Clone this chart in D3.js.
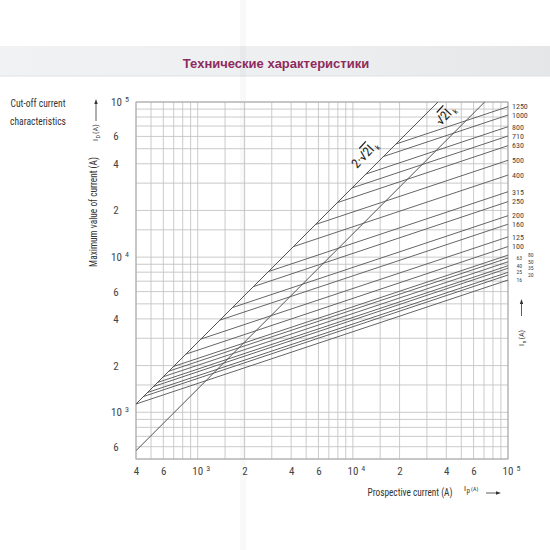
<!DOCTYPE html>
<html>
<head>
<meta charset="utf-8">
<script src="https://cdn.jsdelivr.net/npm/d3@7"></script>
<style>
  html, body { margin: 0; padding: 0; background: #ffffff; }
  svg { display: block; }
  .nar { font-family: "Liberation Sans Narrow", "Roboto Condensed", "DejaVu Sans Condensed", "Liberation Sans", sans-serif; }
</style>
</head>
<body>
<svg id="chart" width="550" height="550"></svg>
<script>
// ---------- data ----------
const titleText = "Технические характеристики";
const ratings  = [1250, 1000, 800, 710, 630, 500, 400, 315, 250, 200, 160, 125, 100, 80, 63, 50, 40, 35, 25, 20, 16];
// start of each cut-off line (on the 2·√2·Ik line): prospective current, cut-off current
const startIp  = [18950, 15730, 12140, 9870, 7940, 5740, 4130, 2855, 2282, 1672, 1388, 1049, 838, 698, 651, 599, 550, 518, 474, 447, 400];
const startIc  = [53600, 44490, 34340, 27920, 22460, 16240, 11680, 8075, 6455, 4730, 3926, 2967, 2370, 1974, 1841, 1694, 1556, 1465, 1341, 1264, 1131];
// end of each line at Ip = 100 kA
const endIp    = [100000, 100000, 100000, 100000, 100000, 100000, 100000, 100000, 100000, 100000, 100000, 100000, 100000, 100000, 100000, 100000, 100000, 100000, 100000, 100000, 100000];
const endIc    = [93300, 82400, 69300, 60400, 52300, 42100, 33800, 26400, 22800, 18500, 16300, 13500, 11700, 10300, 9870, 9330, 8800, 8480, 7980, 7670, 7120];
// label column for each rating (0 = main, 1 = small left, 2 = small right)
const labelCol = [0,0,0,0,0,0,0,0,0,0,0,0,0,2,1,2,1,2,1,2,1];
// diagonal reference lines
const diag2Ip = [400, 35355];   // 2·√2·Ik
const diag2Ic = [1131, 100000];
const diag1Ip = [400, 70711];   // √2·Ik
const diag1Ic = [566, 100000];
// ticks
const xTickVals   = [400, 600, 1000, 2000, 4000, 6000, 10000, 20000, 40000, 60000, 100000];
const xTickLabels = ["4", "6", "10^3", "2", "4", "6", "10^4", "2", "4", "6", "10^5"];
const yTickVals   = [600, 1000, 2000, 4000, 6000, 10000, 20000, 40000, 60000, 100000];
const yTickLabels = ["6", "10^3", "2", "4", "6", "10^4", "2", "4", "6", "10^5"];
const gridMult    = [1, 1.5, 2, 3, 4, 5, 6, 7, 8, 9];

// ---------- layout ----------
const svg = d3.select("#chart");
const L = 136, R = 508, T = 102, B = 459;
const x = d3.scaleLog().domain([400, 100000]).range([L, R]);
const y = d3.scaleLog().domain([500, 100000]).range([B, T]);

// title band
const defs = svg.append("defs");
const g1 = defs.append("linearGradient").attr("id", "band").attr("x1", 0).attr("x2", 1).attr("y1", 0).attr("y2", 0);
g1.append("stop").attr("offset", "0%").attr("stop-color", "#f1f2f3");
g1.append("stop").attr("offset", "60%").attr("stop-color", "#eceef0");
g1.append("stop").attr("offset", "100%").attr("stop-color", "#e4e6e8");
svg.append("rect").attr("x", 0).attr("y", 46).attr("width", 550).attr("height", 30).attr("fill", "url(#band)");
svg.append("line").attr("x1", 0).attr("x2", 550).attr("y1", 76).attr("y2", 76).attr("stroke", "#dfe1e3").attr("stroke-width", 1);
svg.append("text").attr("x", 276).attr("y", 67.5).attr("text-anchor", "middle")
  .attr("font-family", "Liberation Sans, Arial, sans-serif").attr("font-weight", "bold")
  .attr("font-size", 13).attr("fill", "#8e2b5d").text(titleText);

// page fold
svg.append("rect").attr("x", 240).attr("y", 0).attr("width", 6).attr("height", 550).attr("fill", "#000").attr("opacity", 0.025);

// clip
defs.append("clipPath").attr("id", "plotClip").append("rect")
  .attr("x", L).attr("y", T).attr("width", R - L).attr("height", B - T);

// grid values
function gridVals(lo, hi) {
  const v = [];
  for (let e = 2; e <= 5; e++) gridMult.forEach(m => { const val = m * Math.pow(10, e); if (val >= lo - 1e-6 && val <= hi + 1e-6) v.push(val); });
  return v;
}
const gGrid = svg.append("g");
gGrid.selectAll("line.vx").data(gridVals(400, 100000)).join("line")
  .attr("x1", d => x(d)).attr("x2", d => x(d)).attr("y1", T).attr("y2", B)
  .attr("stroke", "#c4c4c4").attr("stroke-width", 0.9);
gGrid.selectAll("line.hy").data(gridVals(500, 100000)).join("line")
  .attr("y1", d => y(d)).attr("y2", d => y(d)).attr("x1", L).attr("x2", R)
  .attr("stroke", "#c4c4c4").attr("stroke-width", 0.9);
svg.append("rect").attr("x", L).attr("y", T).attr("width", R - L).attr("height", B - T)
  .attr("fill", "none").attr("stroke", "#a8a8a8").attr("stroke-width", 1);

// curves
const gC = svg.append("g").attr("clip-path", "url(#plotClip)");
const lineGen = d3.line().x(d => x(d[0])).y(d => y(d[1]));
gC.append("path").attr("d", lineGen([[diag2Ip[0], diag2Ic[0]], [diag2Ip[1], diag2Ic[1]]]))
  .attr("fill", "none").attr("stroke", "#505050").attr("stroke-width", 1);
gC.append("path").attr("d", lineGen([[diag1Ip[0], diag1Ic[0]], [diag1Ip[1], diag1Ic[1]]]))
  .attr("fill", "none").attr("stroke", "#505050").attr("stroke-width", 1);
gC.selectAll("path.fuse").data(ratings).join("path").attr("class", "fuse")
  .attr("d", (d, i) => lineGen([[startIp[i], startIc[i]], [endIp[i], endIc[i]]]))
  .attr("fill", "none").attr("stroke", "#555").attr("stroke-width", 0.9);

// rating labels
const colX = [512, 516.5, 528];
svg.append("g").attr("class", "nar").selectAll("text").data(ratings).join("text")
  .attr("x", (d, i) => colX[labelCol[i]]).attr("y", (d, i) => y(endIc[i]))
  .attr("dy", "0.35em").attr("font-size", (d, i) => labelCol[i] === 0 ? 8 : 5.7)
  .attr("fill", "#444").text(d => d);

// axes
function powLabels(sel) {
  sel.each(function() {
    const t = d3.select(this);
    const s = t.text();
    if (s.includes("^")) {
      const [b, p] = s.split("^");
      t.text(b);
      t.append("tspan").attr("dx", 3).attr("dy", "-0.5em").attr("font-size", 8).text(p);
    }
  });
}
const xAxis = d3.axisBottom(x).tickValues(xTickVals).tickFormat((d, i) => xTickLabels[i]).tickSize(0).tickPadding(8);
const gx = svg.append("g").attr("class", "nar").attr("transform", `translate(0,${B})`).call(xAxis);
gx.select(".domain").remove();
gx.selectAll("text").attr("font-size", 11).attr("fill", "#444").attr("font-family", null)
  .attr("x", (d, i) => xTickLabels[i].includes("^") ? 3 : 0).call(powLabels);

const yAxis = d3.axisLeft(y).tickValues(yTickVals).tickFormat((d, i) => yTickLabels[i]).tickSize(0);
const gy = svg.append("g").attr("class", "nar").attr("transform", `translate(${L},0)`).call(yAxis);
gy.select(".domain").remove();
gy.selectAll("text").attr("font-size", 11).attr("fill", "#444").attr("font-family", null)
  .attr("text-anchor", "middle")
  .attr("x", (d, i) => yTickLabels[i].includes("^") ? -16 : -20).call(powLabels);

// condensed text fitted to a target width via a horizontal scale
const nar = svg.append("g").attr("class", "nar").attr("fill", "#333");
function fitText(txt, cx, cy, rot, size, width) {
  const t = nar.append("text").attr("text-anchor", "middle").attr("font-size", size).text(txt);
  const w = t.node().getComputedTextLength();
  t.attr("transform", `translate(${cx},${cy}) rotate(${rot}) scale(${width / w},1)`);
  return t;
}
fitText("Cut-off current", 38, 107, 0, 11, 55);
fitText("characteristics", 38, 125, 0, 11, 56);
fitText("Maximum value of current (A)", 97, 212, -90, 11, 110);
fitText("Prospective current (A)", 410, 496, 0, 11, 85);

// I_D (A) with arrow
const tD = nar.append("text").attr("transform", "translate(98,141) rotate(-90)").attr("font-size", 8);
tD.append("tspan").text("I");
tD.append("tspan").attr("dx", 0.6).attr("dy", 2).attr("font-size", 6).text("D");
tD.append("tspan").attr("dx", 1).attr("dy", -2).text("(A)");
svg.append("line").attr("x1", 96).attr("x2", 96).attr("y1", 121).attr("y2", 103).attr("stroke", "#333").attr("stroke-width", 0.8);
svg.append("path").attr("d", "M96,99 L94.3,104 L97.7,104 Z").attr("fill", "#333");

// I_p (A) with arrow
const tP = nar.append("text").attr("x", 464).attr("y", 491).attr("font-size", 8);
tP.append("tspan").text("I");
tP.append("tspan").attr("dx", 0.6).attr("dy", 2).attr("font-size", 7).text("p");
tP.append("tspan").attr("dx", 1).attr("dy", -2).attr("font-size", 6).text("(A)");
svg.append("line").attr("x1", 486).attr("x2", 497).attr("y1", 493).attr("y2", 493).attr("stroke", "#333").attr("stroke-width", 0.8);
svg.append("path").attr("d", "M501,493 L496,491.3 L496,494.7 Z").attr("fill", "#333");

// right I_n (A)
const tN = nar.append("text").attr("transform", "translate(524,346) rotate(-90)").attr("font-size", 8);
tN.append("tspan").text("I");
tN.append("tspan").attr("dx", 0.6).attr("dy", 2).attr("font-size", 6).text("n");
tN.append("tspan").attr("dx", 1).attr("dy", -2).text("(A)");
svg.append("line").attr("x1", 521.5).attr("x2", 521.5).attr("y1", 316).attr("y2", 303).attr("stroke", "#333").attr("stroke-width", 0.8);
svg.append("path").attr("d", "M521.5,299 L519.8,304 L523.2,304 Z").attr("fill", "#333");

// diagonal labels
function diagLabel(px, py, prefix) {
  const t = nar.append("text").attr("transform", `translate(${px},${py}) rotate(-47)`).attr("font-size", 13).attr("fill", "#222");
  if (prefix) t.append("tspan").text(prefix);
  t.append("tspan").text("√");
  t.append("tspan").attr("text-decoration", "overline").text("2I");
  t.append("tspan").attr("dx", 2).attr("dy", 3).attr("font-size", 8).text("k");
}
diagLabel(357, 169, "2·");
diagLabel(441, 126, null);
</script>
</body>
</html>
